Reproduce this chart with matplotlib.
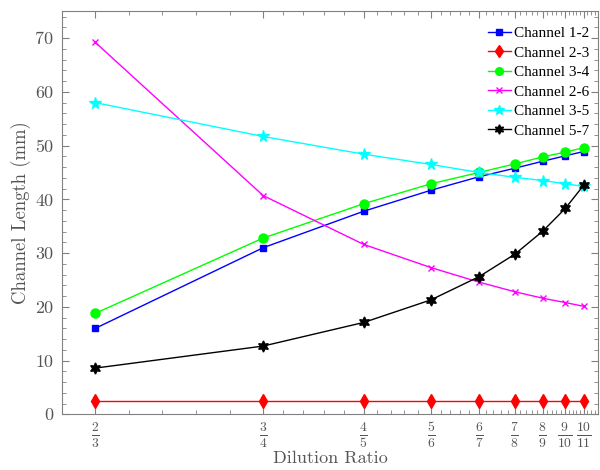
import numpy as np
import matplotlib
matplotlib.use("Agg")
import matplotlib.pyplot as plt

plt.rcParams['font.family'] = 'serif'
plt.rcParams['font.serif'] = ['cmr10', 'DejaVu Serif']
plt.rcParams['mathtext.fontset'] = 'cm'
plt.rcParams['axes.unicode_minus'] = False

numerators = [2, 3, 4, 5, 6, 7, 8, 9, 10]
ratio = [n / (n + 1) for n in numerators]
tick_labels = [r'$\frac{%d}{%d}$' % (n, n + 1) for n in numerators]

ch12 = [16.0, 31.0, 37.8, 41.7, 44.2, 45.8, 47.1, 48.1, 48.9]
ch23 = [2.5, 2.5, 2.5, 2.5, 2.5, 2.5, 2.5, 2.5, 2.5]
ch34 = [18.8, 32.8, 39.2, 42.9, 45.0, 46.6, 47.9, 48.8, 49.6]
ch26 = [69.2, 40.7, 31.6, 27.3, 24.6, 22.8, 21.6, 20.8, 20.1]
ch35 = [58.0, 51.7, 48.4, 46.5, 45.0, 44.1, 43.5, 42.9, 42.4]
ch57 = [8.6, 12.7, 17.1, 21.3, 25.6, 29.8, 34.1, 38.3, 42.6]

gray = '#808080'
txt = '#555555'

fig = plt.figure(figsize=(6, 4.7), dpi=100)
ax = fig.add_axes([0.103, 0.1185, 0.894, 0.8575])

lw = 1.0
ax.plot(ratio, ch12, color='#0000ff', marker='s', ms=5, lw=lw, label='Channel 1-2')
ax.plot(ratio, ch23, color='#ff0000', marker='d', ms=7.5, lw=lw, label='Channel 2-3')
ax.plot(ratio, ch34, color='#00ff00', marker='o', ms=6.5, lw=lw, label='Channel 3-4')
ax.plot(ratio, ch26, color='#ff00ff', marker='x', ms=5, mew=1.0, lw=lw, label='Channel 2-6')
ax.plot(ratio, ch35, color='#00ffff', marker='*', ms=8.5, lw=lw, label='Channel 3-5')
ax.plot(ratio, ch57, color='black', marker=(6, 1, 0), ms=8, lw=lw, label='Channel 5-7')

ax.set_xlim(0.6502, 0.9158)
ax.set_ylim(0, 75)

# minor x ticks: 4 between each pair of majors, extended past the ends
minor = []
for a, b in zip(ratio[:-1], ratio[1:]):
    minor.extend(np.linspace(a, b, 6)[1:-1])
minor.append(ratio[0] - (ratio[1] - ratio[0]) / 5)
step = (ratio[-1] - ratio[-2]) / 5
minor.extend([ratio[-1] + step * k for k in range(1, 5)])
ax.set_xticks(ratio)
ax.set_xticklabels(tick_labels, fontsize=14, color=txt)
ax.set_xticks(minor, minor=True)

ax.set_yticks(np.arange(0, 71, 10))
ax.set_yticks(np.arange(0, 75, 2), minor=True)
for lab in ax.get_yticklabels():
    lab.set_fontsize(13)
    lab.set_color(txt)

ax.tick_params(which='both', direction='in', top=True, right=True, colors=gray,
               labelcolor=txt)
ax.tick_params(which='major', length=5, width=0.8)
ax.tick_params(which='minor', length=3, width=0.6)
ax.tick_params(axis='x', which='major', pad=4)
ax.tick_params(axis='y', which='major', pad=6)

for s in ax.spines.values():
    s.set_color(gray)
    s.set_linewidth(0.8)

ax.set_xlabel('Dilution Ratio', fontsize=13, color=txt, labelpad=1)
ax.set_ylabel('Channel Length (mm)', fontsize=13.5, color=txt, labelpad=3)

ax.legend(loc='upper right', bbox_to_anchor=(1.0, 0.985), frameon=False,
          prop={'family': 'Liberation Serif', 'size': 11}, handlelength=1.5,
          handletextpad=0.2, labelspacing=0.38, borderaxespad=0.2, markerscale=0.85)

fig.savefig('out.png', dpi=100)
